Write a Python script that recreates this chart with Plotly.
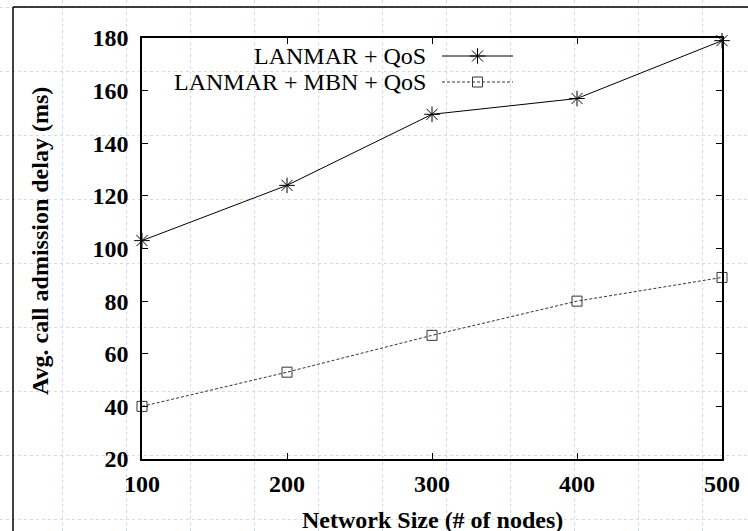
import plotly.graph_objects as go

# ---- data ----
network_sizes = [100, 200, 300, 400, 500]
lanmar_qos = [103, 124, 151, 157, 179]
lanmar_mbn_qos = [40, 53, 67, 80, 89]
series_names = ["LANMAR + QoS", "LANMAR + MBN + QoS"]
x_ticks = [100, 200, 300, 400, 500]
y_ticks = [20, 40, 60, 80, 100, 120, 140, 160, 180]

W, H = 748, 531
FONT = "Liberation Serif, Times New Roman, serif"
C1, C2 = "black", "#333333"

fig = go.Figure()

# legend samples drawn on the pixel overlay (x/y)
fig.add_trace(go.Scatter(x=[442, 513], y=[56, 56], mode="lines",
                         line=dict(color=C1, width=1), xaxis="x", yaxis="y",
                         showlegend=False, hoverinfo="skip"))
fig.add_trace(go.Scatter(x=[477.5], y=[56], mode="markers",
                         marker=dict(symbol="asterisk-open", size=13, color=C1,
                                     line=dict(color=C1, width=1)),
                         xaxis="x", yaxis="y", showlegend=False, hoverinfo="skip"))
fig.add_trace(go.Scatter(x=[442, 513], y=[82, 82], mode="lines",
                         line=dict(color=C2, width=1, dash="3px,2px"),
                         xaxis="x", yaxis="y", showlegend=False, hoverinfo="skip"))
fig.add_trace(go.Scatter(x=[477.5], y=[82], mode="markers",
                         marker=dict(symbol="square-open", size=10, color=C2,
                                     line=dict(color=C2, width=1)),
                         xaxis="x", yaxis="y", showlegend=False, hoverinfo="skip"))

# data series on x2/y2
fig.add_trace(go.Scatter(x=network_sizes, y=lanmar_qos, name=series_names[0],
                         mode="lines+markers", xaxis="x2", yaxis="y2",
                         line=dict(color=C1, width=1),
                         marker=dict(symbol="asterisk-open", size=13, color=C1,
                                     line=dict(color=C1, width=1)),
                         cliponaxis=False, showlegend=False))
fig.add_trace(go.Scatter(x=network_sizes, y=lanmar_mbn_qos, name=series_names[1],
                         mode="lines+markers", xaxis="x2", yaxis="y2",
                         line=dict(color=C2, width=1, dash="3px,2px"),
                         marker=dict(symbol="square-open", size=10, color=C2,
                                     line=dict(color=C2, width=1)),
                         cliponaxis=False, showlegend=False))

grid_col = "#d0d9f7"
tickfont = dict(family=FONT, size=24, color="black", weight="bold")

fig.update_layout(
    width=W, height=H,
    margin=dict(l=0, r=0, t=0, b=0),
    paper_bgcolor="white",
    plot_bgcolor="rgba(0,0,0,0)",
    showlegend=False,
    xaxis=dict(domain=[0, 1], range=[0, W], showgrid=True, gridcolor=grid_col,
               griddash="dot", gridwidth=1, tick0=62, dtick=64,
               showticklabels=False, ticks="", zeroline=False, showline=False,
               fixedrange=True),
    yaxis=dict(domain=[0, 1], range=[H, 0], showgrid=True, gridcolor=grid_col,
               griddash="dot", gridwidth=1, tick0=7, dtick=64,
               showticklabels=False, ticks="", zeroline=False, showline=False,
               fixedrange=True),
    xaxis2=dict(domain=[142 / W, 722 / W], anchor="y2", range=[100, 500],
                tickvals=x_ticks, ticktext=[str(v) for v in x_ticks],
                ticks="inside", ticklen=6, tickwidth=1, tickcolor="black",
                showline=True, linecolor="black", linewidth=1.5, mirror="ticks",
                showgrid=False, zeroline=False, tickfont=tickfont,
                ticklabelstandoff=2, automargin=False),
    yaxis2=dict(domain=[1 - 459 / H, 1 - 38 / H], anchor="x2", range=[20, 180],
                tickvals=y_ticks, ticktext=[str(v) for v in y_ticks],
                ticks="inside", ticklen=6, tickwidth=1, tickcolor="black",
                showline=True, linecolor="black", linewidth=1.5, mirror="ticks",
                showgrid=False, zeroline=False, tickfont=tickfont,
                ticklabelstandoff=7, automargin=False),
    shapes=[
        dict(type="line", xref="paper", yref="paper", x0=13 / W, x1=13 / W,
             y0=1 - 7 / H, y1=0, line=dict(color="black", width=1.5)),
        dict(type="line", xref="paper", yref="paper", x0=13 / W, x1=1,
             y0=1 - 7 / H, y1=1 - 7 / H, line=dict(color="black", width=1.5)),
    ],
    annotations=[
        dict(text="Network Size (# of nodes)", x=432 / W, y=1 - 520 / H,
             xref="paper", yref="paper", xanchor="center", yanchor="middle",
             showarrow=False, font=dict(family=FONT, size=24, color="black", weight="bold")),
        dict(text="Avg. call admission delay (ms)", x=40 / W, y=1 - 241 / H,
             xref="paper", yref="paper", xanchor="center", yanchor="middle",
             textangle=-90, showarrow=False,
             font=dict(family=FONT, size=24, color="black", weight="bold")),
        dict(text=series_names[0], x=428 / W, y=1 - 56 / H, xref="paper", yref="paper",
             xanchor="right", yanchor="middle", showarrow=False,
             font=dict(family=FONT, size=24, color="black")),
        dict(text=series_names[1], x=428 / W, y=1 - 82 / H, xref="paper", yref="paper",
             xanchor="right", yanchor="middle", showarrow=False,
             font=dict(family=FONT, size=24, color="black")),
    ],
)

fig.write_html("out.html", config={"displayModeBar": False},
               post_script="document.body.style.margin='0';document.body.style.overflow='hidden';")
